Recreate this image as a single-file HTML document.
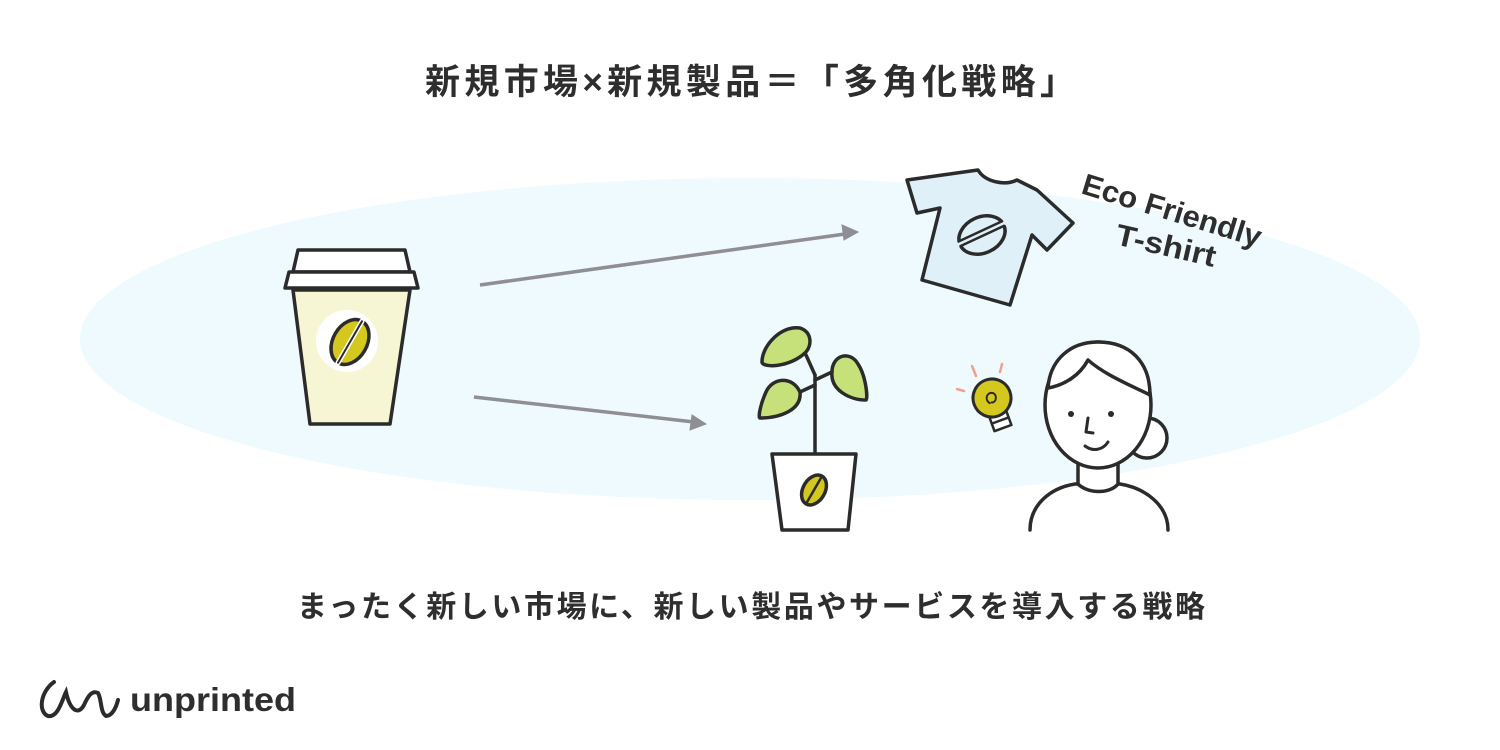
<!DOCTYPE html>
<html><head><meta charset="utf-8"><style>
html,body{margin:0;padding:0;background:#fff;width:1500px;height:750px;overflow:hidden}
svg{display:block}
text{font-family:"Liberation Sans","Noto Sans CJK JP",sans-serif;fill:#2e2e2e}
</style></head><body>
<svg width="1500" height="750" viewBox="0 0 1500 750">
<ellipse cx="750" cy="339" rx="670" ry="161" fill="#eefafd"/>
<text x="425" y="94" font-size="35" font-weight="bold" textLength="650" lengthAdjust="spacing">新規市場×新規製品＝「多角化戦略」</text>
<text x="297" y="617" font-size="30" font-weight="bold" textLength="908" lengthAdjust="spacing">まったく新しい市場に、新しい製品やサービスを導入する戦略</text>

<g stroke="#2b2b2b" stroke-width="3.5" stroke-linejoin="round" stroke-linecap="round">
<path d="M293 290 L410 290 L390 424 L310 424 Z" fill="#f6f6d4"/>
<path d="M298 250 L405 250 L410 272 L293 272 Z" fill="#fff"/>
<path d="M289 272 L414 272 L418 288 L285 288 Z" fill="#fff"/>
<circle cx="347" cy="341" r="31" fill="#fff" stroke="none"/>
<g transform="rotate(30 350 342)">
<ellipse cx="350" cy="342" rx="17" ry="24" fill="#d4c81e"/>
<line x1="350" y1="318" x2="350" y2="366" stroke-width="5" stroke="#fff"/>
<line x1="350" y1="318" x2="350" y2="366" stroke-width="2"/>
</g>
<line x1="815" y1="455" x2="815" y2="375"/>
<line x1="815" y1="375" x2="806" y2="355"/>
<line x1="815" y1="380" x2="832" y2="372"/>
<line x1="815" y1="385" x2="800" y2="392"/>
<path d="M806 352 C790 368 762 368 762 362 C762 345 782 325 800 328 C812 332 812 345 806 352Z" fill="#c6e07a"/>
<path d="M832 372 C832 355 850 350 858 364 C866 376 868 398 866 400 C850 400 830 390 832 372Z" fill="#c6e07a"/>
<path d="M800 392 C792 375 772 378 766 392 C760 405 758 418 760 418 C780 418 802 410 800 392Z" fill="#c6e07a"/>
<path d="M772 454 L856 454 L848 530 L782 530 Z" fill="#fff"/>
<g transform="rotate(30 814 490)">
<ellipse cx="814" cy="490" rx="11" ry="16" fill="#d4c81e"/>
<line x1="814" y1="474" x2="814" y2="506" stroke-width="2.5"/>
</g>
<path d="M907 180 L978 170 C985 182 1005 186 1017 180 L1037 190 L1073 223 L1047 250 L1032 235 L1010 305 L922 280 L940 208 L917 213 Z" fill="#dff0f8"/>
<g transform="rotate(-25 982 235)">
<ellipse cx="982" cy="235" rx="24" ry="18" fill="none"/>
<line x1="956" y1="233" x2="1008" y2="233" stroke-width="6" stroke="#dff0f8"/>
<line x1="958" y1="231" x2="1006" y2="231" stroke-width="2.5"/>
<line x1="958" y1="236" x2="1006" y2="236" stroke-width="2.5"/>
</g>
<g transform="rotate(-20 992 398)">
<rect x="983" y="414" width="18" height="16" fill="#fff" stroke-width="2.5"/>
<line x1="983" y1="422" x2="1001" y2="422" stroke-width="2.5"/>
<circle cx="992" cy="398" r="19" fill="#d4c81e" stroke-width="3"/>
<path d="M988 402 C984 396 990 390 995 394 C998 398 994 404 990 402" fill="none" stroke-width="2"/>
</g>
<g stroke="#f0a090" stroke-width="2.5">
<line x1="972" y1="366" x2="976" y2="376"/><line x1="1002" y1="364" x2="1000" y2="372"/><line x1="957" y1="389" x2="964" y2="391"/>
</g>
<path d="M1030 530 C1030 505 1050 488 1075 484 L1120 484 C1145 488 1168 505 1168 530" fill="#fff"/>
<path d="M1078 450 L1078 484 C1088 494 1110 494 1118 484 L1118 450" fill="#fff"/>
<circle cx="1147" cy="438" r="20" fill="#fff"/>
<ellipse cx="1098" cy="405" rx="53" ry="63" fill="#fff"/>
<path d="M1048 388 C1050 360 1070 342 1098 342 C1130 342 1150 362 1150 395 C1130 385 1105 375 1088 360 C1080 375 1065 385 1048 388Z" fill="#fff"/>
<circle cx="1071" cy="414" r="3" fill="#2b2b2b" stroke="none"/>
<circle cx="1111" cy="414" r="3" fill="#2b2b2b" stroke="none"/>
<path d="M1088 418 L1086 432 L1093 433" fill="none" stroke-width="3"/>
<path d="M1085 446 C1093 452 1103 450 1108 442" fill="none" stroke-width="3"/>
</g>
<g stroke="#8e8e93" stroke-width="3.5" fill="#8e8e93">
<line x1="480" y1="285" x2="845" y2="234"/>
<path d="M858 232 L842 225 L844 240 Z" stroke-width="1"/>
<line x1="474" y1="397" x2="694" y2="422"/>
<path d="M706 424 L692 415 L690 430 Z" stroke-width="1"/>
</g>
<text x="1080" y="193" font-size="30" font-weight="bold" textLength="186" lengthAdjust="spacingAndGlyphs" transform="rotate(17 1080 193)">Eco Friendly</text>
<text x="1114" y="244" font-size="30" font-weight="bold" textLength="102" lengthAdjust="spacingAndGlyphs" transform="rotate(13 1114 244)">T-shirt</text>
<path d="M54 682 C40 692 38 712 48 716 C58 718 62 700 66 692 C70 710 78 716 84 705 C88 696 92 690 98 693 C102 700 100 712 106 716 C112 716 116 708 118 700" fill="none" stroke="#2b2b2b" stroke-width="4" stroke-linecap="round"/>
<text x="130" y="711" font-size="33" font-weight="bold" textLength="166" lengthAdjust="spacingAndGlyphs">unprinted</text>
</svg>
</body></html>
